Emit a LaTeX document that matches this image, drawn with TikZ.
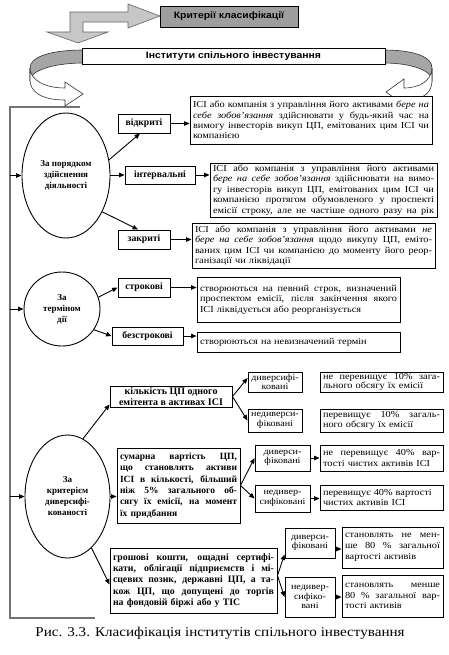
\documentclass[tikz,border=0pt]{standalone}
\usepackage{fontspec}
\setmainfont[FakeStretch=1.12]{Liberation Serif}
\newfontfamily\nserif{Liberation Serif}
\newfontfamily\hsans[FakeStretch=1.12]{Liberation Sans}
\usetikzlibrary{shapes.geometric,arrows.meta}
\newlength\jw
\newcommand\jl[1]{\noindent{\spaceskip=0pt\xspaceskip=0pt\makebox[\jw][s]{#1}}\par}
\begin{document}
\begin{tikzpicture}[x=1pt,y=-1pt,
  bx/.style={draw, line width=0.9pt, rectangle, inner xsep=3pt, inner ysep=1pt, fill=white},
  tx/.style={bx, text width=#1, /utils/exec={\global\jw=#1\relax}, font=\fontsize{9.2}{10.4}\selectfont, align=left},
  btx/.style={bx, text width=#1, /utils/exec={\global\jw=#1\relax}, font=\nserif\bfseries\fontsize{9.5}{11.4}\selectfont, align=left},
  lbl/.style={bx, font=\nserif\bfseries\fontsize{9.7}{11}\selectfont, align=center},
  sm/.style={bx, font=\fontsize{9}{9.6}\selectfont, align=center, inner xsep=1pt},
  hb/.style={draw, line width=0.9pt, rectangle, font=\hsans\bfseries\fontsize{9.3}{11}\selectfont},
  el/.style={draw, ellipse, line width=0.9pt, fill=white, font=\nserif\bfseries\fontsize{9}{11}\selectfont, align=center, inner sep=0pt},
  arr/.style={-{Triangle[length=5.5pt,width=4.5pt]}, line width=0.9pt},
  frame/.style={draw=black!55, line width=1.6pt},
  rib/.style={draw=black!80, line width=0.6pt},
]
\useasboundingbox (0,0) rectangle (449,655);

% left frame
\coordinate (ftop) at (80,107);
\coordinate (fr) at (10,107);
\coordinate (fbot) at (10,618);
\coordinate (fend) at (95,618);
\draw[frame] (ftop) -- (fr) -- (fbot) -- (fend);

% left ribbon arrow
\filldraw[rib, fill=black!35] (84,50) .. controls (50,50) and (30,57) .. (30,68) -- (30,80) .. controls (30,72) and (50,63) .. (84,63) -- cycle;
\filldraw[rib, fill=white] (30,68) .. controls (30,80) and (45,88) .. (65,88) -- (65,82) -- (83,94) -- (65,106) -- (65,100) .. controls (42,100) and (30,92) .. (30,80) -- cycle;
% right ribbon arrow
\filldraw[rib, fill=black!35] (383,50) .. controls (415,50) and (432,57) .. (432,68) -- (432,80) .. controls (432,72) and (415,63) .. (383,63) -- cycle;
\filldraw[rib, fill=white] (432,68) .. controls (432,80) and (420,88) .. (404,88) -- (404,79) -- (386,92) -- (404,105) -- (404,100) .. controls (425,100) and (432,92) .. (432,80) -- cycle;

% bent block arrow
\filldraw[draw=black!60, line width=0.6pt, fill=black!22] (70,32) -- (47,32) -- (78,43) -- (108,32) -- (83,32) -- (83,22) -- (128,22) -- (128,28) -- (160,16) -- (128,4) -- (128,12) -- (70,12) -- cycle;

% titles
\node[hb, fill=black!38, minimum width=138pt, minimum height=21pt] (T1) at (229,16.5) {Критерії класифікації};
\node[hb, fill=white, minimum width=303pt, minimum height=15pt] (T2) at (233.5,56.5) {Інститути спільного інвестування};

% group 1
\node[el, minimum width=88pt, minimum height=125pt] (E1) at (66,175.5) {За порядком\\здійснення\\діяльності};
\node[lbl, minimum width=52pt, minimum height=19pt] (B1) at (144,123.5) {відкриті};
\node[lbl, minimum width=70pt, minimum height=18pt] (B2) at (160,175) {інтервальні};
\node[lbl, minimum width=52pt, minimum height=19pt] (B3) at (144,239.5) {закриті};
\node[tx=236pt, minimum height=48pt] (D1) at (311,120) {%
\jl{ІСІ або компанія з управління його активами \textit{бере на}}%
\jl{\textit{себе зобов’язання} здійснювати у будь-який час на}%
\jl{вимогу інвесторів викуп ЦП, емітованих цим ІСІ чи}%
\noindent компанією};
\node[tx=221pt, minimum height=54pt] (D2) at (323.5,190) {%
\jl{ІСІ або компанія з управління його активами}%
\jl{\textit{бере на себе зобов’язання} здійснювати на вимо-}%
\jl{гу інвесторів викуп ЦП, емітованих цим ІСІ чи}%
\jl{компанією протягом обумовленого у проспекті}%
\jl{емісії строку, але не частіше одного разу на рік}};
\node[tx=237pt, minimum height=45pt] (D3) at (313.5,245.5) {%
\jl{ІСІ або компанія з управління його активами \textit{не}}%
\jl{\textit{бере на себе зобов’язання} щодо викупу ЦП, еміто-}%
\jl{ваних цим ІСІ чи компанією до моменту його реор-}%
\noindent ганізації чи ліквідації};

% group 2
\node[el, minimum width=76pt, minimum height=74pt] (E2) at (62,309) {За\\терміном\\дії};
\node[lbl, minimum width=52pt, minimum height=19pt] (B4) at (144,287.5) {строкові};
\node[lbl, minimum width=71pt, minimum height=18pt] (B5) at (147.5,336) {безстрокові};
\node[tx=197pt, minimum height=45pt] (D4) at (298.5,299.5) {%
\jl{створюються на певний строк, визначений}%
\jl{проспектом емісії, після закінчення якого}%
\noindent ІСІ ліквідується або реорганізується};
\node[tx=197pt, minimum height=20pt] (D5) at (298.5,342) {створюються на невизначений термін};

% group 3
\node[el, minimum width=85pt, minimum height=123pt] (E3) at (67.5,496.5) {За\\критерієм\\диверсифі-\\кованості};
\node[lbl, minimum width=122pt, minimum height=21pt, font=\nserif\bfseries\fontsize{10}{10.5}\selectfont] (K1) at (171,396.5) {кількість ЦП одного\\емітента в активах ІСІ};
\node[sm, minimum width=54pt, minimum height=20pt] (K1a) at (275,382) {диверсифі-\\ковані};
\node[sm, minimum width=54pt, minimum height=23pt] (K1b) at (275,420.5) {недиверси-\\фіковані};
\node[tx=117pt, minimum height=20pt, font=\fontsize{9.2}{9.8}\selectfont] (K1c) at (381.5,382) {%
\jl{не перевищує 10\% зага-}%
\noindent льного обсягу їх емісії};
\node[tx=117pt, minimum height=23pt, font=\fontsize{9.2}{9.8}\selectfont] (K1d) at (381.5,420.5) {%
\jl{перевищує 10\% загаль-}%
\noindent ного обсягу їх емісії};

\node[btx=117pt, minimum height=75pt] (K2) at (178.5,485.5) {%
\jl{сумарна вартість ЦП,}%
\jl{що становлять активи}%
\jl{ІСІ в кількості, більший}%
\jl{ніж 5\% загального об-}%
\jl{сягу їх емісії, на момент}%
\noindent їх придбання};
\node[sm, minimum width=55pt, minimum height=26pt] (K2a) at (282.5,458) {диверси-\\фіковані};
\node[sm, minimum width=55pt, minimum height=27pt] (K2b) at (282.5,498.5) {недивер-\\сифіковані};
\node[tx=117pt, minimum height=26pt] (K2c) at (381.5,458) {%
\jl{не перевищує 40\% вар-}%
\noindent тості чистих активів ІСІ};
\node[tx=117pt, minimum height=25pt] (K2d) at (381.5,497.5) {%
\noindent перевищує 40\% вартості\par
\noindent чистих активів ІСІ};

\node[btx=161pt, minimum height=65pt, font=\nserif\bfseries\fontsize{9.8}{11.2}\selectfont] (K3) at (193.5,580.5) {%
\jl{грошові кошти, ощадні сертифі-}%
\jl{кати, облігації підприємств і мі-}%
\jl{сцевих позик, державні ЦП, а та-}%
\jl{кож ЦП, що допущені до торгів}%
\noindent на фондовій біржі або у ТІС};
\node[sm, minimum width=50pt, minimum height=30pt] (K3a) at (310,543) {диверси-\\фіковані};
\node[sm, minimum width=50pt, minimum height=40pt] (K3b) at (310,597) {недивер-\\сифіко-\\вані};
\node[tx=95pt, minimum height=41pt, font=\fontsize{9.2}{10.8}\selectfont] (K3c) at (392.5,547.5) {%
\jl{становлять не мен-}%
\jl{ше 80 \% загальної}%
\noindent вартості активів};
\node[tx=95pt, minimum height=42pt, font=\fontsize{9.2}{10.8}\selectfont] (K3d) at (392.5,596) {%
\jl{становлять менше}%
\jl{80 \% загальної вар-}%
\noindent тості активів};

% caption
\node[font=\fontsize{13.5}{15}\selectfont] (cap) at (220,633) {Рис. 3.3. Класифікація інститутів спільного інвестування};

% arrows from frame
\draw[arr] (fr |- E1.west) -- (E1.west);
\draw[arr] (fr |- E2.west) -- (E2.west);
\draw[arr] (fr |- E3.west) -- (E3.west);

% group 1 arrows
\draw[arr] (E1.20) -- ([xshift=-4pt]B1.south);
\draw[arr] (E1.east |- B2.west) -- (B2.west);
\draw[arr] (E1.-45) -- ([xshift=-6pt]B3.north);
\draw[arr] (B1.east) -- (B1.east -| D1.west);
\draw[arr] (B2.east) -- (B2.east -| D2.west);
\draw[arr] (B3.east) -- (B3.east -| D3.west);
% group 2 arrows
\draw[arr] (E2.18) -- (B4.west);
\draw[arr] (E2.-33) -- (B5.west);
\draw[arr] (B4.east) -- (B4.east -| D4.west);
\draw[arr] (B5.east) -- (B5.east -| D5.west);
% group 3 arrows
\draw[arr] (E3.75) -- ([yshift=3pt]K1.south west);
\draw[arr] (E3.east) -- (E3.east -| K2.west);
\draw[arr] (E3.-65) -- ([yshift=-4pt]K3.west);
\draw[arr] (K1.east) -- ([yshift=4pt]K1a.west);
\draw[arr] (K1.east) -- (K1b.west);
\draw[arr] (K2.east) -- (K2a.west);
\draw[arr] (K2.east) -- (K2b.west);
\draw[arr] (K2a.east) -- (K2a.east -| K2c.west);
\draw[arr] (K2b.east) -- (K2b.east -| K2d.west);
\draw[arr] ([yshift=5pt]K3.east) -- ([yshift=4pt]K3a.south west);
\draw[arr] ([yshift=5pt]K3.east) -- (K3b.west);
\draw[arr] ([yshift=-6pt]K3a.east) -- ([yshift=-6pt]K3a.east -| K3c.west);
\draw[arr] (K3b.east) -- (K3b.east -| K3d.west);
\end{tikzpicture}
\end{document}
